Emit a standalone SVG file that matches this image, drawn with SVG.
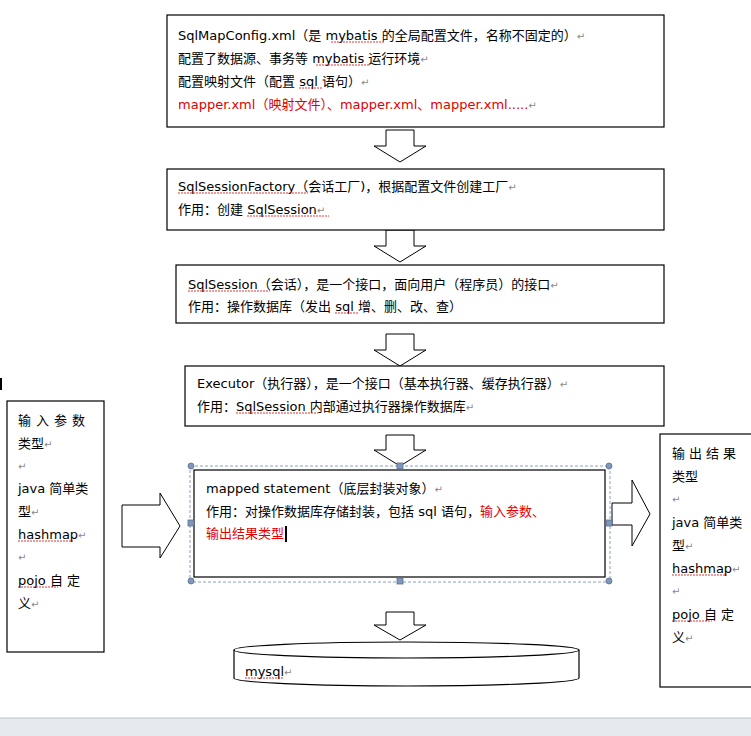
<svg xmlns="http://www.w3.org/2000/svg" width="751" height="736" viewBox="0 0 751 736">
<style>
.b{fill:#fff;stroke:#000;stroke-width:1.2}
.t{font-family:"DejaVu Sans","Noto Sans CJK SC",sans-serif;font-size:13px;fill:#000}
.r{fill:#e00000}
.p{fill:#888;font-size:10px}
.u{stroke:#e00000;stroke-width:0.8;stroke-dasharray:2 1;fill:none}
.a{fill:#fff;stroke:#000;stroke-width:1}
.h{fill:#7f97b8;stroke:#5a7094;stroke-width:0.8}
</style>
<rect width="751" height="736" fill="#fff"/>
<g id="connectors">
<polygon class="a" points="386,130 414,130 414,146 426,146 400,162 374,146 386,146"/>
<polygon class="a" points="386,230 414,230 414,246 426,246 400,262 374,246 386,246"/>
<polygon class="a" points="386,334 414,334 414,350 426,350 400,366 374,350 386,350"/>
<polygon class="a" points="386,435 414,435 414,450 426,450 400,466 374,450 386,450"/>
<polygon class="a" points="386,612 414,612 414,625 426,625 400,640 374,625 386,625"/>
<polygon class="a" points="122,505 160,505 160,493 180,526 160,558 160,547 122,547"/>
<polygon class="a" points="612,503 632,503 632,480 650,514 632,546 632,525 612,525"/>
</g>
<g id="n1">
<rect class="b" x="167" y="15" width="497" height="112"/>
<text class="t" x="178" y="40">SqlMapConfig.xml（是 mybatis 的全局配置文件，名称不固定的）<tspan class="p">↵</tspan></text>
<text class="t" x="178" y="63">配置了数据源、事务等 mybatis 运行环境<tspan class="p">↵</tspan></text>
<text class="t" x="178" y="86">配置映射文件（配置 sql 语句）<tspan class="p">↵</tspan></text>
<text class="t r" x="178" y="109">mapper.xml（映射文件）、mapper.xml、mapper.xml.....<tspan class="p">↵</tspan></text>
<path class="u" d="M331,42 h54 M316,65 h54 M299,88 h24"/>
</g>
<g id="n2">
<rect class="b" x="167" y="169" width="497" height="61"/>
<text class="t" x="178" y="191">SqlSessionFactory（会话工厂)，根据配置文件创建工厂<tspan class="p">↵</tspan></text>
<text class="t" x="178" y="214">作用：创建 SqlSession<tspan class="p">↵</tspan></text>
<path class="u" d="M178,193 h130 M247,216 h82"/>
</g>
<g id="n3">
<rect class="b" x="176" y="265" width="488" height="58"/>
<text class="t" x="188" y="289">SqlSession（会话），是一个接口，面向用户（程序员）的接口<tspan class="p">↵</tspan></text>
<text class="t" x="188" y="311">作用：操作数据库（发出 sql 增、删、改、查）</text>
<path class="u" d="M188,291 h82 M335,313 h24"/>
</g>
<g id="n4">
<rect class="b" x="185" y="366" width="479" height="60"/>
<text class="t" x="197" y="388">Executor（执行器），是一个接口（基本执行器、缓存执行器）<tspan class="p">↵</tspan></text>
<text class="t" x="197" y="411">作用：SqlSession 内部通过执行器操作数据库<tspan class="p">↵</tspan></text>
<path class="u" d="M236,413 h82"/>
</g>
<g id="n5">
<rect x="190" y="466" width="420" height="116" fill="none" stroke="#8aa0c0" stroke-dasharray="3 2"/>
<rect class="b" x="194" y="470" width="411" height="107"/>
<text class="t" x="206" y="493">mapped statement（底层封装对象）<tspan class="p">↵</tspan></text>
<text class="t" x="206" y="516">作用：对操作数据库存储封装，包括  sql 语句，<tspan class="r">输入参数、</tspan></text>
<text class="t r" x="206" y="538">输出结果类型</text>
<rect x="285" y="526" width="2" height="16" fill="#000"/>
<circle class="h" cx="191" cy="466" r="3"/><circle class="h" cx="609" cy="466" r="3"/>
<circle class="h" cx="191" cy="581" r="3"/><circle class="h" cx="609" cy="581" r="3"/>
<rect class="h" x="397" y="463" width="6" height="6"/><rect class="h" x="397" y="578" width="6" height="6"/>
<rect class="h" x="188" y="520" width="6" height="6"/><rect class="h" x="606" y="520" width="6" height="6"/>
</g>
<g id="n6">
<rect class="b" x="7" y="401" width="97" height="251"/>
<g class="t">
<text x="18" y="425" letter-spacing="5">输入参数</text>
<text x="18" y="448">类型<tspan class="p">↵</tspan></text>
<text x="18" y="470" class="p">↵</text>
<text x="18" y="493">java 简单类</text>
<text x="18" y="516">型<tspan class="p">↵</tspan></text>
<text x="18" y="539">hashmap<tspan class="p">↵</tspan></text>
<text x="18" y="561" class="p">↵</text>
<text x="18" y="585">pojo  自 定</text>
<text x="18" y="608">义<tspan class="p">↵</tspan></text>
</g>
<path class="u" d="M18,541 h55 M18,587 h40"/>
</g>
<g id="n7">
<rect class="b" x="660" y="434" width="95" height="253"/>
<g class="t">
<text x="672" y="458" letter-spacing="4">输出结果</text>
<text x="672" y="481">类型</text>
<text x="672" y="503" class="p">↵</text>
<text x="672" y="527">java 简单类</text>
<text x="672" y="550">型<tspan class="p">↵</tspan></text>
<text x="672" y="573">hashmap<tspan class="p">↵</tspan></text>
<text x="672" y="595" class="p">↵</text>
<text x="672" y="619">pojo  自 定</text>
<text x="672" y="642">义<tspan class="p">↵</tspan></text>
</g>
<path class="u" d="M672,575 h55 M672,621 h40"/>
</g>
<g id="n8">
<path class="b" d="M234,650 v28 a172,8 0 0 0 345,0 v-28"/>
<ellipse class="b" cx="406.5" cy="650" rx="172.5" ry="8"/>
<text class="t" x="245" y="676">mysql<tspan class="p">↵</tspan></text>
<path class="u" d="M245,678 h38"/>
</g>
<rect x="0" y="378" width="2" height="12" fill="#000"/>
<rect x="0" y="718" width="751" height="18" fill="#e6e9ee"/>
<line x1="0" y1="718" x2="751" y2="718" stroke="#b8c0cc"/>
</svg>
